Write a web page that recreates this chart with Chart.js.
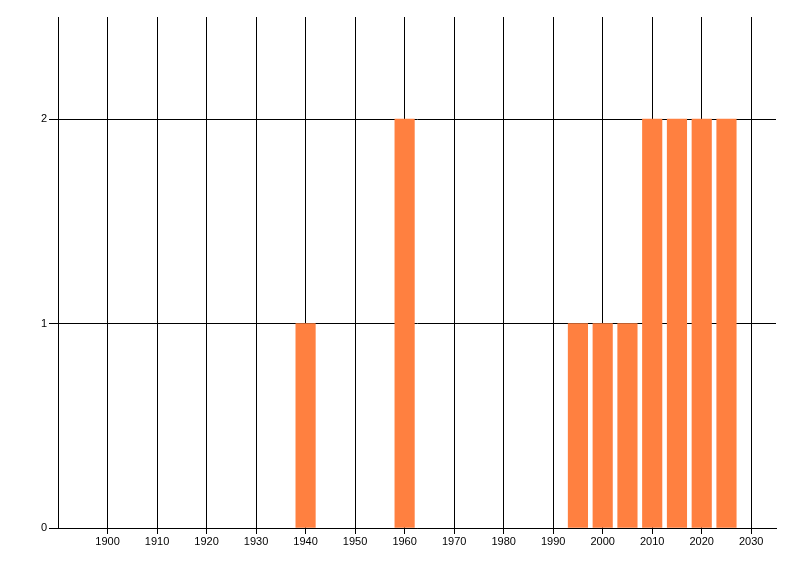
<!DOCTYPE html>
<html>
<head>
<meta charset="utf-8">
<script src="https://cdn.jsdelivr.net/npm/chart.js@4/dist/chart.umd.min.js"></script>
<style>
  html, body { margin: 0; padding: 0; background: #fff; }
  #wrap { width: 800px; height: 576px; position: relative; }
</style>
</head>
<body>
<div id="wrap"><canvas id="yearChart"></canvas></div>
<script>
// chart data
const years = [1940, 1960, 1995, 2000, 2005, 2010, 2015, 2020, 2025];
const counts = [1, 2, 1, 1, 1, 2, 2, 2, 2];
const xTicks = [1900, 1910, 1920, 1930, 1940, 1950, 1960, 1970, 1980, 1990, 2000, 2010, 2020, 2030];
const yTicks = [0, 1, 2];

const points = years.map((y, i) => ({ x: y, y: counts[i] }));

const ctx = document.getElementById('yearChart').getContext('2d');
const yearChart = new Chart(ctx, {
    type: 'bar',
    data: {
        datasets: [{
            data: points,
            backgroundColor: '#FF8040',
            borderWidth: 0,
            barThickness: 19.5
        }]
    },
    options: {
        responsive: true,
        maintainAspectRatio: false,
        animation: false,
        layout: { padding: { top: 17, right: 24, left: 0, bottom: 0 } },
        plugins: {
            legend: { display: false },
            tooltip: { enabled: false }
        },
        scales: {
            x: {
                type: 'linear',
                min: 1890,
                max: 2035,
                offset: false,
                afterBuildTicks: (scale) => { scale.ticks = xTicks.map(v => ({ value: v })); },
                afterFit: (scale) => { scale.height = 48; },
                grid: { color: '#000', lineWidth: 1, tickLength: 6, offset: false },
                border: { display: true, color: '#000', width: 1 },
                ticks: {
                    color: '#000',
                    padding: 1,
                    maxRotation: 0,
                    autoSkip: false,
                    font: { family: 'Liberation Sans', size: 11 },
                    callback: (v) => String(v)
                }
            },
            y: {
                min: 0,
                max: 2.5,
                afterBuildTicks: (scale) => { scale.ticks = yTicks.map(v => ({ value: v })); },
                afterFit: (scale) => { scale.width = 58; },
                grid: { color: '#000', lineWidth: 1, tickLength: 9 },
                border: { display: true, color: '#000', width: 1 },
                ticks: {
                    color: '#000',
                    padding: 2,
                    autoSkip: false,
                    font: { family: 'Liberation Sans', size: 11 },
                    callback: (v) => String(v)
                }
            }
        }
    }
});
</script>
</body>
</html>
